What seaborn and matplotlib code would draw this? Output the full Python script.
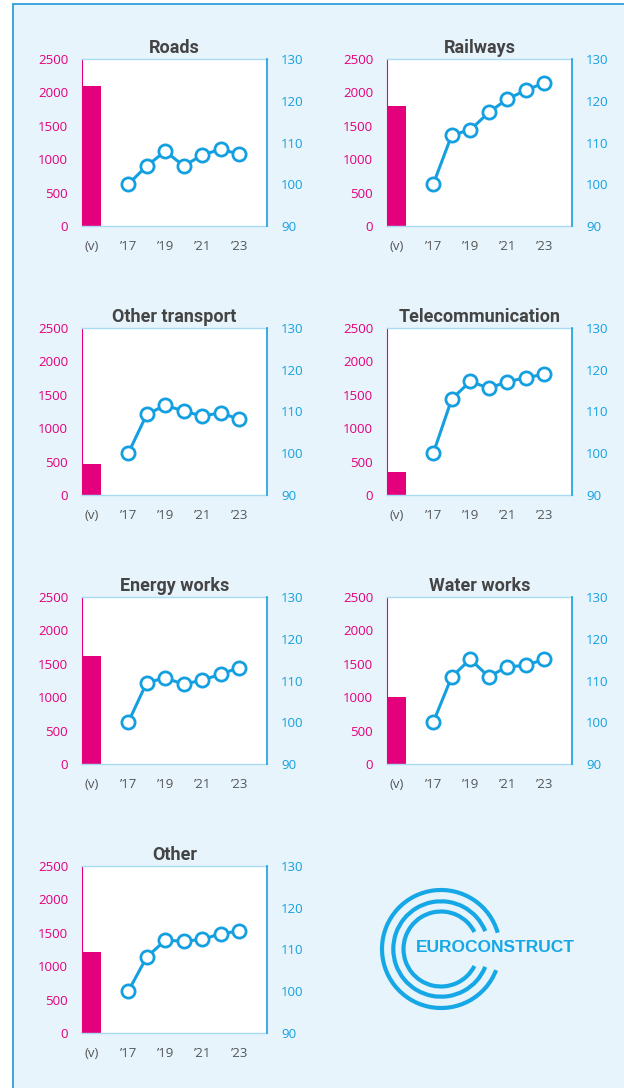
"""Euroconstruct civil engineering panels: volume bar + index line per sector."""

import matplotlib
matplotlib.use("Agg")
import matplotlib.pyplot as plt
from matplotlib import font_manager
from matplotlib.patches import Arc, Rectangle
import seaborn as sns

# ---------------------------------------------------------------------------
# Data
# ---------------------------------------------------------------------------
sectors = ["Roads", "Railways", "Other transport", "Telecommunication",
           "Energy works", "Water works", "Other"]
volume = [2100, 1800, 470, 350, 1620, 1000, 1220]
years = [2017, 2018, 2019, 2020, 2021, 2022, 2023]
index_roads = [100, 104.4, 107.9, 104.4, 107.0, 108.4, 107.2]
index_railways = [100, 111.8, 113.0, 117.2, 120.4, 122.5, 124.3]
index_other_transport = [100, 109.3, 111.5, 110.1, 108.9, 109.7, 108.1]
index_telecom = [100, 113.0, 117.2, 115.6, 117.1, 118.1, 118.9]
index_energy = [100, 109.5, 110.6, 109.1, 110.1, 111.5, 113.1]
index_water = [100, 110.9, 115.1, 110.9, 113.3, 113.6, 115.1]
index_other = [100, 108.2, 112.2, 112.0, 112.4, 113.8, 114.4]
indices = [index_roads, index_railways, index_other_transport, index_telecom,
           index_energy, index_water, index_other]
volume_label = "(v)"
tick_years = [2017, 2019, 2021, 2023]
tick_labels = [volume_label] + ["\u2019" + str(y)[2:] for y in tick_years]
volume_ticks = [0, 500, 1000, 1500, 2000, 2500]
index_ticks = [90, 100, 110, 120, 130]

# ---------------------------------------------------------------------------
# Style
# ---------------------------------------------------------------------------
MAGENTA = "#E4007C"
BLUE = "#14A0E0"
LIGHT_BLUE = "#A9DCF4"
PANEL_BG = "#E7F4FC"
TITLE_GREY = "#444444"
TICK_GREY = "#555555"
VOL_X = 2015  # slot for the volume bar, two steps before the first year

sns.set_style("white")
available = {f.name for f in font_manager.fontManager.ttflist}
NARROW = "Liberation Sans Narrow" if "Liberation Sans Narrow" in available else "Roboto"
plt.rcParams["font.family"] = ["Open Sans", "DejaVu Sans"]

W, H = 624, 1088
fig = plt.figure(figsize=(W / 100, H / 100), dpi=100, facecolor="white")

# background frame + logo in pixel coordinates
bg = fig.add_axes([0, 0, 1, 1], zorder=-10)
bg.set_xlim(0, W)
bg.set_ylim(H, 0)
bg.axis("off")
bg.add_patch(Rectangle((13, 4), 800, 1300, facecolor=PANEL_BG,
                       edgecolor="#2E9FD9", lw=1.3))
cx, cy = 441, 949
for r, (a, b) in [(59, (16, 339)), (47.7, (22, 338)), (37.5, (27, 333))]:
    bg.add_patch(Arc((cx, cy), 2 * r, 2 * r, theta1=360 - b, theta2=360 - a,
                     color="#16A8E6", lw=3.0))
bg.text(495, 947, "EUROCONSTRUCT", ha="center", va="center", color="#16A8E6",
        fontsize=12.5, fontweight="bold", family=["Liberation Sans", "DejaVu Sans"])

lefts = [82, 387]
tops = [59, 328, 597, 866]
pw, ph = 185, 167


def draw_panel(rect, title, vol, idx):
    ax = fig.add_axes(rect)
    ax.set_facecolor("white")
    sns.barplot(x=[VOL_X], y=[vol], native_scale=True, width=1.0, color=MAGENTA,
                saturation=1, errorbar=None, linewidth=0, ax=ax)
    ax.set_xlim(VOL_X - 0.5, VOL_X + 9.5)
    ax.set_ylim(0, 2500)
    ax.set_yticks(volume_ticks)
    ax.set_xticks([VOL_X] + tick_years)
    ax.set_xticklabels(tick_labels)
    ax.tick_params(axis="y", length=0, pad=10, labelsize=9.5, labelcolor=MAGENTA)
    ax.tick_params(axis="x", length=0, pad=10, labelsize=9.5, labelcolor=TICK_GREY)
    ax.set_xlabel("")
    ax.set_ylabel("")
    for s in ("top", "bottom"):
        ax.spines[s].set_color(LIGHT_BLUE)
        ax.spines[s].set_linewidth(1.0)
    ax.spines["left"].set_color(MAGENTA)
    ax.spines["left"].set_linewidth(0.8)
    ax.spines["right"].set_visible(False)
    ax.set_title(title, pad=4, fontsize=13, fontweight="bold", color=TITLE_GREY,
                 family=[NARROW, "DejaVu Sans"])

    ax2 = ax.twinx()
    sns.lineplot(x=years, y=idx, ax=ax2, color=BLUE, lw=2.2, marker="o",
                 markersize=9.5, markerfacecolor="white", markeredgecolor=BLUE,
                 markeredgewidth=2.0)
    ax2.set_ylim(90, 130)
    ax2.set_yticks(index_ticks)
    ax2.tick_params(axis="y", length=0, pad=10, labelsize=9.5, labelcolor=BLUE)
    ax2.set_ylabel("")
    for s in ("top", "bottom", "left"):
        ax2.spines[s].set_visible(False)
    ax2.spines["right"].set_color(BLUE)
    ax2.spines["right"].set_linewidth(1.2)


for i, (name, vol, idx) in enumerate(zip(sectors, volume, indices)):
    left = lefts[i % 2]
    top = tops[i // 2]
    rect = [left / W, 1 - (top + ph) / H, pw / W, ph / H]
    draw_panel(rect, name, vol, idx)

fig.savefig("out.png", dpi=100, facecolor="white")
